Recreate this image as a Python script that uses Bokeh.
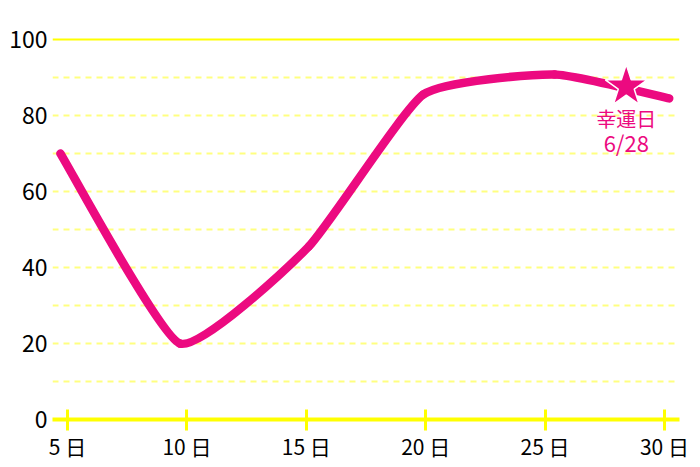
from bokeh.plotting import figure
from bokeh.models import FixedTicker, Range1d, Grid, ColumnDataSource
from bokeh.core.properties import value
from bokeh.embed import file_html
from bokeh.resources import INLINE

# data
days = [4.7, 9.7, 15.1, 19.9, 25.4, 30.2]
scores = [70, 20, 45.5, 85.5, 90.8, 84.5]
x_ticks = [5, 10, 15, 20, 25, 30]
x_labels = ["5 日", "10 日", "15 日", "20 日", "25 日", "30 日"]
y_ticks = [0, 20, 40, 60, 80, 100]
grid_lines = [10, 20, 30, 40, 50, 60, 70, 80, 90]
lucky_day = [28.4]
lucky_score = [87.6]
lucky_title = ["幸運日"]
lucky_date = ["6/28"]

PINK = "#ec0a80"
YELLOW = "#ffff00"
FONT = "Noto Sans CJK JP"

p = figure(width=692, height=467, output_backend="svg", toolbar_location=None,
           x_range=Range1d(4.37, 30.63), y_range=Range1d(0, 102.37),
           min_border_left=52, min_border_right=13, min_border_top=30, min_border_bottom=48)
p.outline_line_color = None
p.background_fill_color = "white"

# grids
p.xgrid.visible = False
p.ygrid[0].ticker = FixedTicker(ticks=grid_lines)
p.ygrid[0].grid_line_color = "#ffff80"
p.ygrid[0].grid_line_width = 2
p.ygrid[0].grid_line_dash = "6 5"
top_grid = Grid(dimension=1, ticker=FixedTicker(ticks=[100]), grid_line_color=YELLOW, grid_line_width=2)
p.add_layout(top_grid)

# axes
xa = p.xaxis[0]
xa.ticker = FixedTicker(ticks=x_ticks)
xa.major_label_overrides = {t: l for t, l in zip(x_ticks, x_labels)}
xa.axis_line_color = YELLOW
xa.axis_line_width = 4
xa.major_tick_line_color = YELLOW
xa.major_tick_line_width = 3
xa.major_tick_in = 10
xa.major_tick_out = 11
xa.minor_tick_line_color = None
xa.major_label_text_font = FONT
xa.major_label_text_font_size = "21px"
xa.major_label_text_color = "black"
xa.major_label_standoff = 0

ya = p.yaxis[0]
ya.ticker = FixedTicker(ticks=y_ticks)
ya.axis_line_color = None
ya.major_tick_line_color = None
ya.minor_tick_line_color = None
ya.major_tick_in = 0
ya.major_tick_out = 0
ya.major_label_text_font = FONT
ya.major_label_text_font_size = "23px"
ya.major_label_text_color = "black"
ya.major_label_standoff = 5

# smoothed line via bezier segments computed from the data
s = 0.08
n = len(days)
x0, y0, x1, y1, cx0, cy0, cx1, cy1 = [], [], [], [], [], [], [], []
for i in range(n - 1):
    pa = (days[max(i - 1, 0)], scores[max(i - 1, 0)])
    pb = (days[i], scores[i])
    pc = (days[i + 1], scores[i + 1])
    pd = (days[min(i + 2, n - 1)], scores[min(i + 2, n - 1)])
    x0.append(pb[0]); y0.append(pb[1]); x1.append(pc[0]); y1.append(pc[1])
    cx0.append(pb[0] + s * (pc[0] - pa[0])); cy0.append(pb[1] + s * (pc[1] - pa[1]))
    cx1.append(pc[0] - s * (pd[0] - pb[0])); cy1.append(pc[1] - s * (pd[1] - pb[1]))
p.bezier(x0=x0, y0=y0, x1=x1, y1=y1, cx0=cx0, cy0=cy0, cx1=cx1, cy1=cy1,
         line_color=PINK, line_width=8.5, line_cap="round")

# lucky day star and labels
src = ColumnDataSource(dict(x=lucky_day, y=lucky_score, t=lucky_title, d=lucky_date))
p.scatter("x", "y", source=src, marker="star", size=44, fill_color=PINK,
          line_color="white", line_width=1.5)
p.text("x", "y", text="t", source=src, y_offset=32, text_align="center", text_baseline="middle",
       text_font=value(FONT), text_font_size="20px", text_color=PINK)
p.text("x", "y", text="d", source=src, y_offset=55, text_align="center", text_baseline="middle",
       text_font=value(FONT), text_font_size="22px", text_color=PINK)

open("out.html", "w").write(file_html(p, INLINE))
